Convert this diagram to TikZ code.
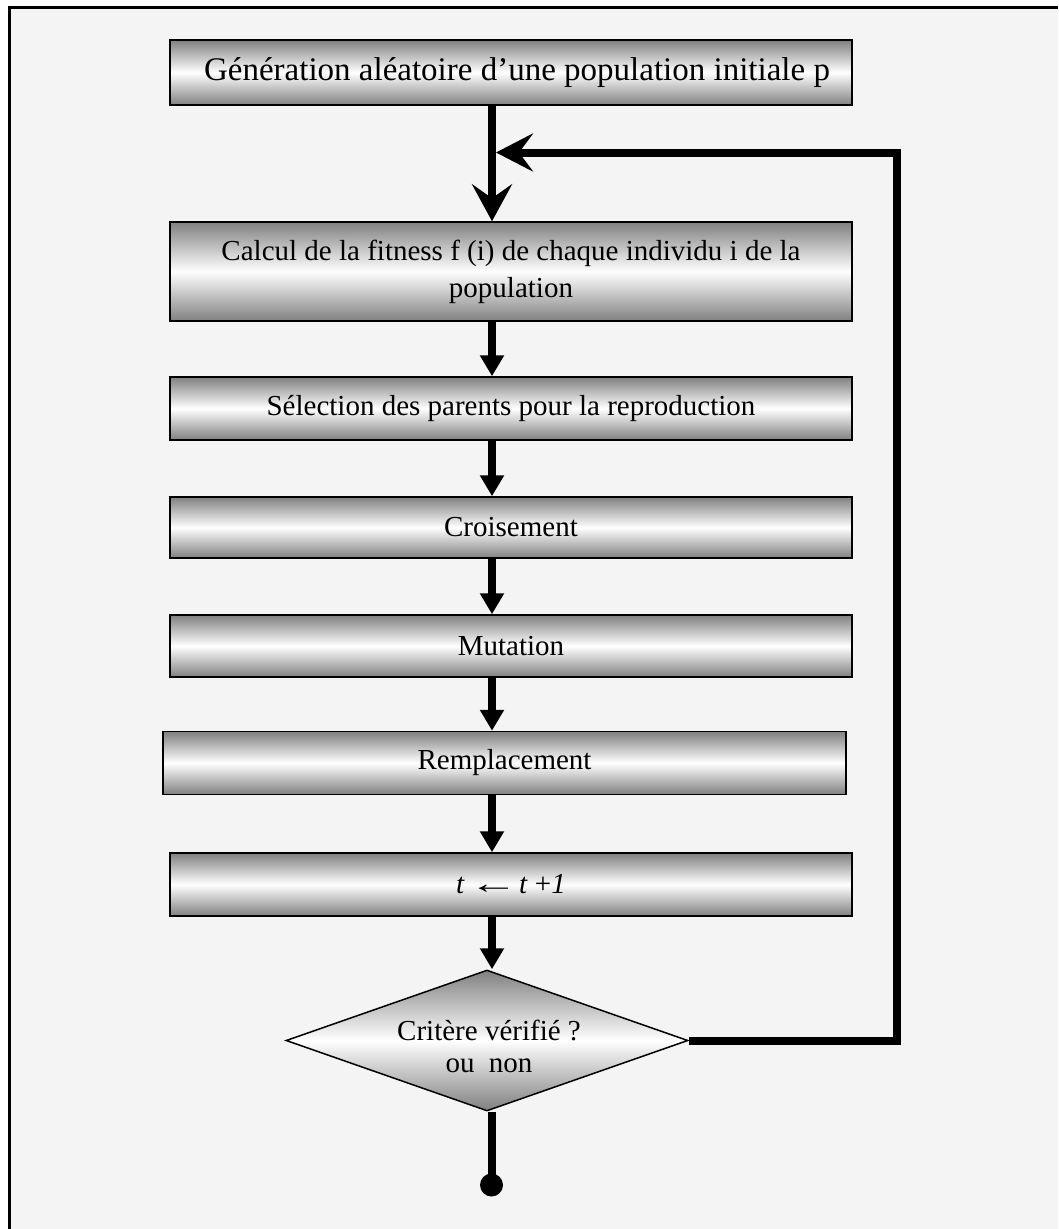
\documentclass[tikz,border=0pt]{standalone}
\usepackage{fontspec}
\setmainfont{Liberation Serif}
\usetikzlibrary{arrows.meta,shapes.geometric}
\definecolor{pagebg}{HTML}{F4F4F4}
\definecolor{shadegray}{RGB}{128,128,128}
\tikzset{
  stepbox/.style={draw=black, line width=1.5pt, rectangle, minimum width=682pt,
    top color=shadegray, bottom color=shadegray, middle color=white,
    font=\fontsize{29}{37}\selectfont, align=center, inner sep=0pt},
  testbox/.style={draw=black, line width=1.5pt, diamond, shape aspect=2.85,
    minimum width=402pt, minimum height=141pt, inner sep=0pt,
    top color=shadegray, bottom color=shadegray, middle color=white},
  testlabel/.style={font=\fontsize{29}{32}\selectfont, align=center, inner sep=0pt},
  flow/.style={line width=8pt, -{Triangle[width=23pt,length=21pt]}},
  bigflow/.style={line width=8pt, -{Stealth[width=40pt,length=37pt,inset=14pt]}},
  loopline/.style={line width=8pt, line join=miter, -{Stealth[width=38pt,length=37pt,inset=14pt]}},
  plainline/.style={line width=8pt},
  enddot/.style={circle, fill=black, minimum size=23pt, inner sep=0pt},
}
\begin{document}
\begin{tikzpicture}[x=1pt, y=-1pt]
  % page and frame
  \useasboundingbox (0,0) rectangle (1058,1229);
  \fill[white] (0,0) rectangle (1058,1229);
  \fill[pagebg] (8,6) rectangle (1058,1229);
  \draw[line width=3pt, line join=miter] (9.5,1229) -- (9.5,7.5) -- (1058,7.5);

  % vertical spine of the flow
  \coordinate (spine) at (492,0);

  % steps
  \node[stepbox, minimum height=65pt, font=\fontsize{33}{40}\selectfont] (gen) at (511,72.5) {\hspace*{12pt}Génération aléatoire d’une population initiale p};
  \node[stepbox, minimum height=99pt] (calc) at (511,271.5) {Calcul de la fitness f (i) de chaque individu i de la\\population};
  \node[stepbox, minimum height=63pt] (sel) at (511,408.5) {Sélection des parents pour la reproduction};
  \node[stepbox, minimum height=61pt] (crois) at (511,527.5) {Croisement};
  \node[stepbox, minimum height=62pt] (mut) at (511,646) {Mutation};
  \node[stepbox, minimum width=683pt, minimum height=63pt] (rempl) at (504.5,763) {Remplacement};
  \node[stepbox, minimum height=63pt] (tinc) at (511,884.5) {\textit{t}\hspace{4pt}\scalebox{1.7}[1]{←}\hspace{1pt}\textit{t} +\textit{1}};
  \node[testbox] (crit) at (487,1040.5) {};
  \node[testlabel] (critlabel) at (489,1046) {Critère vérifié ?\\ou\ \ non};
  \node[enddot] (fin) at (491.5,1185) {};

  % connectors
  \draw[bigflow] (gen.south -| spine) -- (calc.north -| spine);
  \draw[flow] (calc.south -| spine) -- (sel.north -| spine);
  \draw[flow] (sel.south -| spine) -- (crois.north -| spine);
  \draw[flow] (crois.south -| spine) -- (mut.north -| spine);
  \draw[flow] (mut.south -| spine) -- (rempl.north -| spine);
  \draw[flow] (rempl.south -| spine) -- (tinc.north -| spine);
  \draw[flow] (tinc.south -| spine) -- (crit.north -| spine);

  % loop back when the criterion fails
  \coordinate (loopin) at (496,152.5);
  \coordinate (loopcorner) at (896.5,0);
  \draw[loopline] (crit.east) -- (crit.east -| loopcorner) -- (loopin -| loopcorner) -- (loopin);

  % exit
  \draw[plainline] (crit.south -| fin) -- (fin.center);
\end{tikzpicture}
\end{document}
